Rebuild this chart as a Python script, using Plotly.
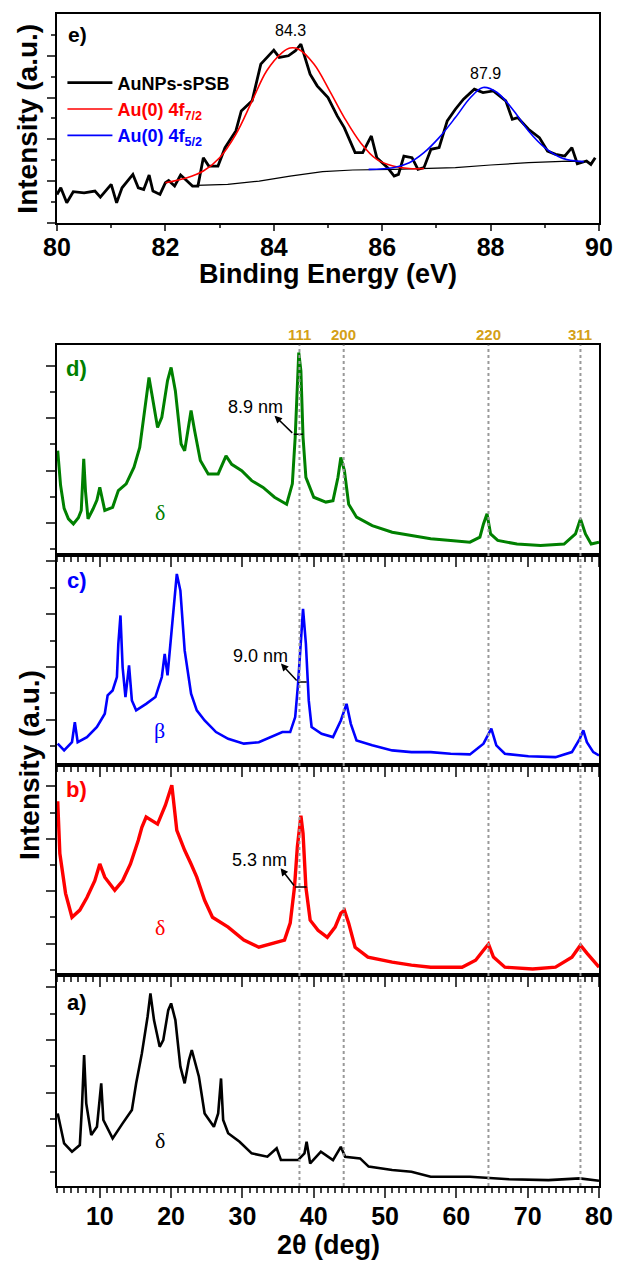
import plotly.graph_objects as go

# ---------------- XPS (panel e) ----------------
xps_be = [80.0, 80.07, 80.18, 80.3, 80.5, 80.7, 80.8, 81.0, 81.1, 81.2, 81.4, 81.5, 81.6, 81.7, 81.77, 81.9,
          82.0, 82.06, 82.17, 82.28, 82.4, 82.5, 82.6, 82.7, 82.8, 82.97, 83.1, 83.3, 83.4, 83.6, 83.76, 84.0,
          84.1, 84.27, 84.4, 84.5, 84.67, 84.8, 85.0, 85.17, 85.3, 85.5, 85.64, 85.8, 85.9, 86.1, 86.22, 86.3,
          86.4, 86.55, 86.66, 86.77, 86.9, 87.05, 87.2, 87.35, 87.5, 87.7, 87.86, 88.05, 88.28, 88.4, 88.5,
          88.7, 88.9, 89.05, 89.2, 89.37, 89.5, 89.6, 89.77, 89.85, 89.93]
xps_int = [13.6, 16.8, 9.6, 14.9, 14.4, 15.2, 12.3, 18.4, 9.6, 16.8, 23.2, 16.8, 16.0, 22.9, 15.2, 13.6,
           19.2, 20.3, 17.6, 22.9, 20.0, 17.6, 17.6, 31.2, 27.2, 27.2, 36.0, 44.0, 53.6, 58.4, 76.0, 82.7,
           79.2, 80.0, 82.4, 85.6, 71.2, 65.6, 60.0, 51.2, 45.6, 33.6, 33.6, 41.6, 31.2, 26.4, 22.4, 23.2,
           32.0, 31.2, 25.6, 26.4, 35.2, 36.0, 48.8, 54.4, 59.2, 64.0, 62.4, 63.2, 58.4, 49.6, 50.4,
           44.8, 40.8, 34.4, 32.8, 32.0, 36.0, 28.3, 29.6, 28.0, 31.2]
fit72_be = [82.0, 82.4, 82.7, 83.0, 83.3, 83.6, 83.87, 84.16, 84.3, 84.45, 84.74, 85.03, 85.3, 85.6, 85.9,
            86.2, 86.5, 86.77]
fit72_int = [19.2, 21.6, 24.8, 31.2, 42.4, 58.4, 72.8, 81.6, 83.7, 83.2, 76.0, 63.2, 50.4, 38.4, 30.4,
             27.2, 26.0, 26.0]
fit52_be = [85.75, 86.2, 86.5, 86.77, 87.05, 87.35, 87.63, 87.86, 88.12, 88.43, 88.7, 89.0, 89.3, 89.58, 89.72]
fit52_int = [25.6, 26.4, 28.8, 33.6, 40.8, 50.4, 60.0, 64.8, 62.4, 53.6, 44.0, 36.0, 31.2, 29.6, 29.3]
bg_be = [82.57, 83.15, 83.73, 84.3, 84.9, 85.46, 86.2, 86.77, 87.35, 88.0, 88.7, 89.44, 89.72]
bg_int = [17.9, 18.4, 20.0, 22.4, 24.5, 25.3, 25.6, 26.0, 26.4, 27.7, 28.8, 29.6, 29.3]
xps_peak_pos = [84.3, 87.9]
xps_peak_lab_y = [91.9, 71.4]

# ---------------- XRD (panels a-d) ----------------
tt_d = [4.1, 4.5, 5.0, 5.6, 6.3, 7.0, 7.4, 7.75, 8.0, 8.35, 9.05, 9.6, 10.0, 10.4, 10.7, 11.8, 12.6, 13.7, 14.8,
        15.6, 16.2, 16.9, 17.3, 18.1, 18.7, 19.5, 20.0, 20.6, 21.4, 21.9, 22.5, 22.8, 23.3, 24.1, 25.2, 26.6,
        27.7, 28.5, 29.9, 31.3, 32.9, 34.5, 36.2, 37.0, 37.4, 37.7, 37.9, 38.2, 38.5, 38.9, 40.0, 41.7, 42.7,
        43.4, 43.8, 44.3, 44.9, 46.0, 48.2, 51.0, 53.7, 56.4, 59.2, 61.9, 63.3, 63.8, 64.3, 64.8, 65.8, 68.5,
        71.8, 75.1, 76.7, 77.4, 78.1, 78.9, 80.0]
int_d = [49.5, 33.0, 22.0, 17.0, 14.6, 17.5, 21, 45.6, 30.0, 17, 21.7, 26.0, 32, 25.0, 21, 22.5, 30.5, 33.7, 41.6,
         51, 67, 84.4, 76.5, 60.6, 65.4, 82.9, 89.2, 78, 52.7, 49.5, 62.2, 68.6, 59, 44.8, 38.4, 38.4,
         47, 43, 40, 35.2, 32, 27.3, 24, 33.7, 55.9, 79.7, 96.3, 87.6, 55.9, 36.8, 27.3, 25, 25.7,
         36.8, 46.3, 40, 24, 17.8, 13.8, 10.6, 9, 7.5, 6.7, 5.9, 8.3, 14.6, 19.4, 9.8, 6.7, 5,
         4.3, 5, 9.8, 17, 9.8, 5, 5.9]
tt_c = [4.1, 5.0, 6.1, 6.5, 6.9, 8.2, 9.6, 10.7, 11.1, 11.8, 12.4, 12.6, 12.9, 13.2, 13.6, 14.1, 14.5, 15.1,
        16.5, 17.8, 18.7, 19.1, 19.5, 20.0, 20.6, 20.8, 21.3, 21.9, 22.8, 23.6, 24.7, 26.3, 28.0, 30.2, 32.3,
        34.5, 35.6, 36.7, 37.4, 37.8, 38.2, 38.5, 38.9, 39.3, 39.7, 41.1, 42.7, 43.8, 44.6, 45.2, 46.0, 48.2,
        51.0, 53.7, 56.4, 59.2, 61.9, 63.8, 64.9, 65.6, 66.8, 70.1, 73.9, 76.2, 77.3, 77.8, 78.3, 79.2, 80.0]
int_c = [10.3, 7.1, 11, 20.5, 11, 13.4, 18.2, 24.5, 33.2, 35.5, 41.9, 57.7, 71.1, 46.6, 32.4, 47.4, 30.8, 26.1,
         29.2, 32.4, 41.9, 52.9, 42.7, 60.8, 86.1, 90.8, 82.9, 54.5, 34, 26.1, 21.3, 15.8, 12.6, 10.3, 11,
         14.2, 15.8, 15.8, 22.9, 38.7, 62.4, 74.2, 57.7, 30.8, 18.2, 15, 13.4, 21.3, 29.2, 19.7, 11.8, 9.5,
         7.1, 6.3, 6.3, 5.5, 5.2, 10.3, 17.4, 9.5, 5.5, 4.3, 3.9, 6.3, 12.6, 16.6, 11, 6.3, 4.7]
tt_b = [4.1, 4.4, 5.2, 6.1, 7.2, 8.2, 9.3, 10.0, 10.7, 12.1, 13.2, 14.3, 15.4, 15.9, 16.5, 18.1, 19.2, 20.1,
        20.8, 21.9, 22.8, 23.6, 24.7, 25.8, 28.0, 30.2, 32.3, 34.5, 35.9, 36.7, 37.3, 37.7, 38.2, 38.5, 38.9,
        39.5, 40.6, 41.9, 43.0, 43.8, 44.3, 44.9, 45.8, 47.6, 51.0, 53.7, 56.4, 60.8, 62.7, 63.8, 64.5, 65.2,
        66.8, 70.7, 73.9, 76.2, 77.4, 78.3, 80.0]
int_b = [82.9, 58, 39, 27.6, 31, 37, 45, 53, 46.7, 40.5, 45, 53, 64.3, 70.5, 75.4, 72, 81, 90.5,
         69, 59.5, 53, 46.7, 35.7, 27.6, 22.9, 16.7, 13.3, 15.2, 16.7, 24.8, 41.9, 61, 76, 67.6, 41.9,
         26.2, 21.4, 18, 22.9, 29.5, 31, 24.8, 13.3, 8.6, 6.2, 4.8, 3.8, 3.8, 7.1, 11.9, 14.8, 8.6,
         3.8, 2.9, 3.8, 8.6, 14.3, 10.5, 3.8]
tt_a = [4.1, 5.0, 6.1, 7.2, 7.5, 7.8, 8.1, 8.8, 9.6, 10.2, 10.5, 11.8, 13.2, 14.5, 15.1, 15.9, 16.7, 17.1,
        17.6, 18.4, 18.9, 19.6, 20.0, 20.6, 21.3, 21.9, 22.5, 22.9, 23.9, 24.7, 26.0, 26.6, 27.0, 27.3, 28.0,
        29.6, 31.3, 33.5, 34.8, 35.4, 37.8, 38.7, 39.0, 39.5, 41.0, 42.7, 43.8, 44.4, 46.5, 47.7, 51.0, 53.7,
        56.4, 61.9, 67.4, 72.9, 77.3, 80.0]
int_a = [34.4, 20.2, 16.3, 19.4, 37.6, 62.1, 39.2, 24.2, 28.1, 48.7, 31.3, 22.6, 29.7, 36, 48.7, 62.9, 80.3, 91.3,
         78.7, 66, 69.2, 83.4, 86.6, 78.7, 56.6, 48.7, 59.7, 64.5, 51.8, 34.4, 28.1, 34.4, 51, 31.3, 25,
         21, 15.5, 13.9, 17.9, 12.3, 12.3, 15.5, 21, 10.7, 16.3, 12.3, 18.6, 13.9, 13.1, 9.2, 7.6, 6.8,
         4.4, 4.4, 3.2, 2.8, 3.6, 2.5]

panel_names = ["d)", "c)", "b)", "a)"]
panel_colors = ["#008000", "#0000FF", "#FF0000", "#000000"]
panel_widths = [3.0, 2.6, 3.4, 2.6]
panel_label_y = [0.886, 0.877, 0.886, 0.872]
panel_phase = ["δ", "β", "δ", "δ"]
phase_pos = [18.4, 18.4, 18.4, 18.4]
phase_y = [20.0, 16.6, 22.9, 21.8]
ytick0 = [15.0, 21.7, 15.0, 19.2]

# crystallite size annotations (FWHM bars) for d, c, b
size_labels = ["8.9 nm", "9.0 nm", "5.3 nm"]
fwhm_x0 = [37.2, 37.8, 37.4]
fwhm_x1 = [38.5, 39.0, 39.0]
fwhm_h = [57.3, 39.5, 42.0]
label_x = [31.8, 32.5, 32.45]
label_y = [70.5, 52.1, 54.8]
arrow_head_x = [34.5, 35.4, 35.35]
arrow_head_y = [66.2, 48.3, 51.0]

au_hkl = ["111", "200", "220", "311"]
au_pos = [38.0, 44.2, 64.5, 77.4]

FONT = "Liberation Sans, Arial, sans-serif"

fig = go.Figure()

# ---- panel e traces ----
fig.add_trace(go.Scatter(x=bg_be, y=bg_int, mode="lines", line=dict(color="black", width=1.2),
                         showlegend=False, xaxis="x", yaxis="y"))
fig.add_trace(go.Scatter(x=xps_be, y=xps_int, mode="lines", line=dict(color="black", width=2.8),
                         name="AuNPs-sPSB", xaxis="x", yaxis="y"))
fig.add_trace(go.Scatter(x=fit72_be, y=fit72_int, mode="lines", line=dict(color="#FF0000", width=1.6),
                         line_shape="spline",
                         name='<span style="color:#FF0000">Au(0) 4f<sub>7/2</sub></span>', xaxis="x", yaxis="y"))
fig.add_trace(go.Scatter(x=fit52_be, y=fit52_int, mode="lines", line=dict(color="#0000FF", width=1.6),
                         line_shape="spline",
                         name='<span style="color:#0000FF">Au(0) 4f<sub>5/2</sub></span>', xaxis="x", yaxis="y"))

# ---- XRD traces ----
xrd_tt = [tt_d, tt_c, tt_b, tt_a]
xrd_int = [int_d, int_c, int_b, int_a]
for i in range(4):
    ax = str(i + 2)
    fig.add_trace(go.Scatter(x=xrd_tt[i], y=xrd_int[i], mode="lines",
                             line=dict(color=panel_colors[i], width=panel_widths[i]),
                             showlegend=False, xaxis="x" + ax, yaxis="y" + ax))

for i in range(3):
    ax = str(i + 2)
    fig.add_trace(go.Scatter(x=[fwhm_x0[i], fwhm_x1[i]], y=[fwhm_h[i], fwhm_h[i]], mode="lines",
                             line=dict(color="black", width=1.5), showlegend=False,
                             xaxis="x" + ax, yaxis="y" + ax))

# ---- layout / axes ----
doms = [[0.5388, 0.7178], [0.3589, 0.5388], [0.1799, 0.3589], [0.0, 0.1799]]
layout = dict(
    width=625, height=1262,
    margin=dict(l=57, r=14, t=13, b=76),
    paper_bgcolor="white", plot_bgcolor="rgba(0,0,0,0)",
    font=dict(family=FONT, color="black"),
    showlegend=True,
    legend=dict(x=0.01, y=0.957, xanchor="left", yanchor="top", bgcolor="rgba(0,0,0,0)",
                font=dict(size=18, family=FONT, weight="bold"), itemwidth=45, tracegroupgap=0),
)
layout["xaxis"] = dict(domain=[0, 1], anchor="y", range=[80, 90], tick0=80, dtick=2,
                       ticks="outside", ticklen=6, tickwidth=1.5, showline=True, linewidth=2,
                       linecolor="black", mirror=True, showgrid=False, zeroline=False,
                       ticklabelstandoff=-5,
                       tickfont=dict(size=25, family=FONT, weight="bold"),
                       minor=dict(dtick=1, ticks="outside", ticklen=3, tickwidth=1.5))
layout["yaxis"] = dict(domain=[0.8218, 1.0], anchor="x", range=[0, 100],
                       tickvals=[0, 20, 40, 60, 80], ticks="outside", ticklen=8, tickwidth=1.5,
                       showticklabels=False, showline=True, linewidth=2, linecolor="black",
                       mirror=True, showgrid=False, zeroline=False,
                       minor=dict(tickvals=[10, 30, 50, 70, 90], ticks="outside", ticklen=4, tickwidth=1.5))
for i in range(4):
    ax = str(i + 2)
    layout["xaxis" + ax] = dict(domain=[0, 1], anchor="y" + ax, range=[4, 80], tick0=0, dtick=10,
                                ticks="outside", ticklen=10, tickwidth=1.5, showline=True, linewidth=2,
                                linecolor="black", mirror=True, showgrid=False, zeroline=False,
                                showticklabels=(i == 3), ticklabelstandoff=-3,
                                tickfont=dict(size=25, family=FONT, weight="bold"),
                                minor=dict(dtick=1, ticks="outside", ticklen=5, tickwidth=1.5))
    layout["yaxis" + ax] = dict(domain=doms[i], anchor="x" + ax, range=[0, 100],
                                tick0=ytick0[i], dtick=25, ticks="outside", ticklen=9, tickwidth=1.5,
                                showticklabels=False, showline=True, linewidth=2, linecolor="black",
                                mirror=True, showgrid=False, zeroline=False,
                                minor=dict(tick0=ytick0[i] - 12.5, dtick=25, ticks="outside",
                                           ticklen=5, tickwidth=1.5))
fig.update_layout(**layout)

C = dict(xanchor="center", yanchor="middle", showarrow=False)
ann = []
# titles
ann.append(dict(text="<b>Intensity (a.u.)</b>", x=-0.054, y=0.9105, xref="paper", yref="paper",
                textangle=-90, font=dict(size=28, family=FONT), **C))
ann.append(dict(text="<b>Binding Energy (eV)</b>", x=0.5, y=(1186 - 273) / 1173, xref="paper", yref="paper",
                font=dict(size=27, family=FONT), **C))
ann.append(dict(text="<b>Intensity (a.u.)</b>", x=-0.0505, y=0.359, xref="paper", yref="paper",
                textangle=-90, font=dict(size=28, family=FONT), **C))
ann.append(dict(text="<b>2θ (deg)</b>", x=0.5, y=(1186 - 1245) / 1173, xref="paper", yref="paper",
                font=dict(size=27, family=FONT), **C))
# panel e labels
ann.append(dict(text="<b>e)</b>", x=0.038, y=0.904, xref="x domain", yref="y domain",
                font=dict(size=21, family=FONT), **C))
for p, yy in zip(xps_peak_pos, xps_peak_lab_y):
    ann.append(dict(text=f"{p}", x=p, y=yy, xref="x", yref="y",
                    font=dict(size=16, family=FONT), **C))
# XRD panel labels, phase labels
for i in range(4):
    ax = str(i + 2)
    ann.append(dict(text=f"<b>{panel_names[i]}</b>", x=0.036, y=panel_label_y[i], xref=f"x{ax} domain",
                    yref=f"y{ax} domain", font=dict(size=22, family=FONT, color=panel_colors[i]), **C))
    ann.append(dict(text=panel_phase[i], x=phase_pos[i], y=phase_y[i], xref="x" + ax, yref="y" + ax,
                    font=dict(size=22, family="Liberation Serif, serif", color=panel_colors[i]), **C))
for i in range(3):
    ax = str(i + 2)
    ann.append(dict(text=size_labels[i], x=label_x[i], y=label_y[i], xref="x" + ax, yref="y" + ax,
                    font=dict(size=18, family=FONT), **C))
    ann.append(dict(text="", x=arrow_head_x[i], y=arrow_head_y[i], ax=fwhm_x0[i], ay=fwhm_h[i],
                    xref="x" + ax, yref="y" + ax, axref="x" + ax, ayref="y" + ax,
                    showarrow=True, arrowhead=2, arrowsize=1, arrowwidth=1.5, arrowcolor="black"))
# hkl labels
for lab, p in zip(au_hkl, au_pos):
    ann.append(dict(text=f"<b>{lab}</b>", x=p, y=0.7263, xref="x2", yref="paper",
                    font=dict(size=15, family=FONT, color="#D4A017"), **C))
fig.update_layout(annotations=ann)

shapes = []
for p in au_pos:
    shapes.append(dict(type="line", xref="x5", yref="paper", x0=p, x1=p, y0=0, y1=0.7178,
                       line=dict(color="#999999", width=2, dash="dot"), layer="above"))
fig.update_layout(shapes=shapes)

# remove the browser's default 8px body margin so the figure fills the 625x1262 window exactly
fig.write_html("out.html", config={"displayModeBar": False},
               post_script="document.body.style.margin='0';document.body.style.overflow='hidden';")
